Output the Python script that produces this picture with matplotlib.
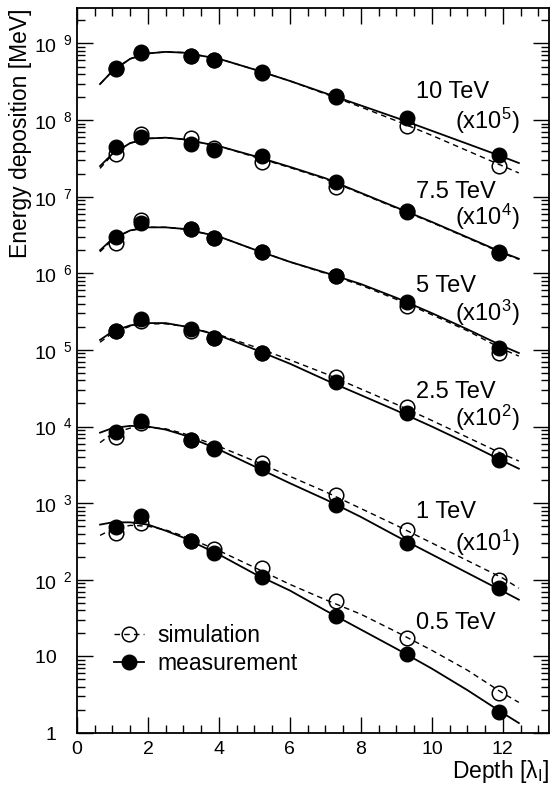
import matplotlib
matplotlib.use("Agg")
import matplotlib.pyplot as plt
import numpy as np
from matplotlib.lines import Line2D
from matplotlib.ticker import FixedLocator, FuncFormatter, LogLocator, MultipleLocator, NullFormatter

plt.rcParams["font.family"] = ["Liberation Sans", "DejaVu Sans"]
plt.rcParams["mathtext.fontset"] = "custom"
plt.rcParams["mathtext.rm"] = "Liberation Sans"
plt.rcParams["mathtext.it"] = "Liberation Sans:italic"
plt.rcParams["mathtext.default"] = "regular"

# depth of the measured points and of the fitted curves [lambda_I]
depth = [1.1, 1.8, 3.2, 3.85, 5.2, 7.3, 9.3, 11.9]
fit_depth = [0.65, 1, 1.5, 2, 2.5, 3, 4, 5, 6, 7, 8, 9, 10, 11, 12, 12.45]

energies = ["10 TeV", "7.5 TeV", "5 TeV", "2.5 TeV", "1 TeV", "0.5 TeV"]
scale_exp = [5, 4, 3, 2, 1, 0]

# energy deposition [MeV], before the scale factor
meas_10 = [4790, 7760, 6920, 6170, 4270, 2090, 1070, 355]
sim_10 = [4700, 7600, 6900, 6100, 4100, 2000, 832, 251]
fit_meas_10 = [2950, 4370, 6310, 7410, 7760, 7590, 6310, 4570, 3240, 2240, 1550, 1070, 724, 490, 331, 275]
fit_sim_10 = [2950, 4370, 6310, 7410, 7760, 7590, 6310, 4570, 3240, 2190, 1480, 977, 631, 398, 251, 204]

meas_7_5 = [4470, 6030, 4900, 4070, 3390, 1550, 631, 191]
sim_7_5 = [3630, 6610, 5890, 4370, 2820, 1350, 646, 186]
fit_meas_7_5 = [2510, 3630, 5010, 5750, 5890, 5620, 4570, 3390, 2450, 1740, 1120, 724, 468, 295, 186, 155]
fit_sim_7_5 = [2340, 3550, 5010, 5750, 5890, 5620, 4570, 3310, 2400, 1700, 1100, 710, 460, 290, 182, 152]

meas_5 = [2950, 4570, 3800, 2880, 1910, 933, 427, 107]
sim_5 = [2510, 5010, 3800, 2880, 1910, 933, 372, 91.2]
fit_meas_5 = [2000, 2820, 3630, 3980, 3980, 3800, 3020, 2040, 1410, 1020, 724, 479, 302, 186, 112, 91.2]
fit_sim_5 = [1910, 2750, 3630, 3980, 3980, 3800, 3020, 2040, 1410, 1000, 700, 457, 288, 178, 102, 83.2]

meas_2_5 = [1740, 2510, 1860, 1450, 912, 380, 151, 36.3]
sim_2_5 = [1740, 2400, 1780, 1450, 912, 447, 182, 42.7]
fit_meas_2_5 = [1350, 1740, 2090, 2240, 2240, 2040, 1550, 1020, 661, 407, 257, 162, 100, 60.3, 35.5, 28.2]
fit_sim_2_5 = [1260, 1660, 2040, 2190, 2190, 2040, 1580, 1100, 741, 490, 309, 195, 120, 72.4, 43.7, 35.5]

meas_1 = [851, 1170, 676, 513, 288, 95.5, 30.2, 7.76]
sim_1 = [724, 1120, 676, 525, 331, 126, 44.7, 10.0]
fit_meas_1 = [832, 955, 1020, 1000, 912, 776, 501, 302, 182, 112, 66.1, 37.2, 21.4, 12.3, 7.08, 5.50]
fit_sim_1 = [617, 813, 955, 977, 933, 813, 550, 355, 224, 141, 85.1, 51.3, 30.2, 17.8, 10.5, 7.76]

meas_0_5 = [490, 676, 324, 224, 110, 33.9, 10.7, 1.86]
sim_0_5 = [407, 550, 324, 251, 141, 52.5, 17.4, 3.31]
fit_meas_0_5 = [525, 562, 562, 525, 437, 355, 214, 120, 72.4, 39.8, 22.4, 12.6, 6.92, 3.63, 1.82, 1.35]
fit_sim_0_5 = [380, 457, 513, 501, 447, 372, 240, 145, 87.1, 55.0, 35.5, 20.9, 12.0, 6.61, 3.31, 2.51]

meas = [meas_10, meas_7_5, meas_5, meas_2_5, meas_1, meas_0_5]
sim = [sim_10, sim_7_5, sim_5, sim_2_5, sim_1, sim_0_5]
fit_meas = [fit_meas_10, fit_meas_7_5, fit_meas_5, fit_meas_2_5, fit_meas_1, fit_meas_0_5]
fit_sim = [fit_sim_10, fit_sim_7_5, fit_sim_5, fit_sim_2_5, fit_sim_1, fit_sim_0_5]

FS = 16.5

fig = plt.figure(figsize=(5.55, 7.86), dpi=100)
ax = fig.add_axes([0.1387, 0.0674, 0.8505, 0.9224])

for m, s, fm, fsim, e in zip(meas, sim, fit_meas, fit_sim, scale_exp):
    f = 10.0 ** e
    ax.plot(fit_depth, np.array(fsim) * f, color="black", lw=1.0, dashes=(4, 3))
    ax.plot(fit_depth, np.array(fm) * f, color="black", lw=1.3)
    ax.plot(depth, np.array(s) * f, ls="none", marker="o", ms=10.5,
            mfc="none", mec="black", mew=1.1)
    ax.plot(depth, np.array(m) * f, ls="none", marker="o", ms=10.5,
            mfc="black", mec="black")

# energy labels and scale factors
label_y = [2.3e8, 1.15e7, 6.9e5, 2.8e4, 7.7e2, 27]
scale_y = [9.8e7, 5.5e6, 3.0e5, 1.3e4, 3.0e2, None]
for name, e, ly, sy in zip(energies, scale_exp, label_y, scale_y):
    ax.text(9.55, ly, name, ha="left", va="center", fontsize=17)
    if sy is not None:
        ax.text(12.47, sy, "(x10$^{%d}$)" % e, ha="right", va="center", fontsize=17)

ax.set_yscale("log")
ax.set_xlim(0, 13.3)
ax.set_ylim(1, 2.9e9)

ax.xaxis.set_major_locator(MultipleLocator(2))
ax.xaxis.set_minor_locator(MultipleLocator(0.5))
ax.yaxis.set_major_locator(FixedLocator([10.0 ** k for k in range(10)]))
ax.yaxis.set_minor_locator(LogLocator(base=10, subs=np.arange(2, 10), numticks=20))
ax.yaxis.set_minor_formatter(NullFormatter())


def ylab(v, pos):
    n = int(round(np.log10(v)))
    if n == 0:
        return "1   "
    if n == 1:
        return "10   "
    return r"$10^{\ \ %d}$" % n


ax.yaxis.set_major_formatter(FuncFormatter(ylab))
ax.tick_params(which="both", direction="in", top=True, right=True, width=1.0)
ax.tick_params(which="major", length=11.5, labelsize=14)
ax.tick_params(which="minor", length=5.5)
ax.tick_params(axis="x", pad=6)
ax.tick_params(axis="y", pad=3)
for sp in ax.spines.values():
    sp.set_linewidth(1.3)

ax.set_ylabel("Energy deposition [MeV]", loc="top", fontsize=FS)
ax.yaxis.set_label_coords(-0.095, 1.0)
ax.set_xlabel("Depth [λ$_I$]", loc="right", fontsize=FS)
ax.xaxis.set_label_coords(1.0, -0.035)

handles = [
    Line2D([], [], color="black", lw=1.0, dashes=(4, 3), marker="o", ms=10.5,
           mfc="none", mec="black", mew=1.1),
    Line2D([], [], color="black", lw=1.3, marker="o", ms=10.5, mfc="black"),
]
ax.legend(handles, ["simulation", "measurement"], loc="upper left",
          bbox_to_anchor=(0.078, 0.151), frameon=False, fontsize=FS,
          handlelength=1.3, handletextpad=0.6, labelspacing=0.25,
          borderpad=0, borderaxespad=0)

fig.savefig("out.png", dpi=100)
